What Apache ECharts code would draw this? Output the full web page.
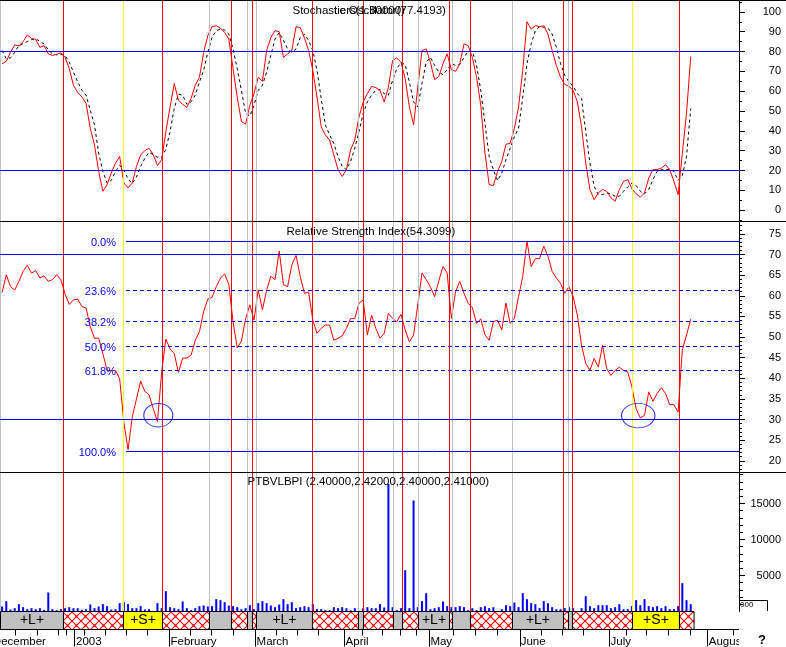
<!DOCTYPE html>
<html><head><meta charset="utf-8">
<style>html,body{margin:0;padding:0;background:#fff}#c{width:786px;height:647px}</style>
<script src="https://cdn.jsdelivr.net/npm/echarts@6/dist/echarts.min.js"></script>
</head><body><div id="c"></div>
<script>
const stochK=[73.8,75.1,79.6,83.3,82.8,85,88.3,86.6,86.1,82.1,83,78.8,78,78.6,79.3,77.1,71.3,62.9,59.4,57.1,53.8,41.2,32.9,19.5,9.5,12.9,18.7,23.7,27,13.7,11.2,13.7,22,27.9,30,31.2,27.9,22.5,25.4,39.6,52,63.8,55.4,53.4,51.8,56.3,63,67,79.6,88,92.5,93,91.8,89.6,86.3,71.3,57,44.6,43.4,52.9,58.8,67,65,80.5,87,90.5,90,77,78.8,80.5,92.5,92,87,80.5,70.5,57,42,37.9,35.4,27.9,20.4,17,20.4,30.4,35.4,47,54.6,58.8,62.4,61.8,60.4,54.6,62,75.5,76.8,74.5,66.3,52,43,62,80.5,81.3,74.6,65.8,67.4,73.8,78.8,70.8,70,73.8,83.8,83,77,67,52.9,28.7,12.9,12.4,19.5,24.5,33.2,33.7,41.2,52,70.5,95,91.3,93,92.5,93,88.8,80.5,73,67,63.4,62.4,60.4,54.6,42,23.7,10.4,5.3,8.7,10.4,9.5,6.2,4.5,10.4,14.5,15.4,10.7,8.3,6.5,8.7,16.2,20.4,20.4,21.2,22.9,20.4,14.5,7.8,28.7,48.7,77.42];
const stochD=[80.5,76.3,76.8,79.6,83,84,85,86,86.5,85,83.8,80.8,78.8,78.3,78.6,78,74.6,69.6,64.6,60.4,58,50.4,43,28.7,19.5,13.7,15,19.5,22.5,20.4,15.7,13.4,16.7,22,26.2,29.2,27.9,26.7,26.7,30.7,39.6,51.2,58.4,58,53.4,54.6,58,64.6,70.5,79.6,87.1,90.5,91.3,90.8,88.8,81.3,71.3,60.4,48.7,47.4,52.9,60.4,63,69.6,78,86.3,89.6,85.5,81.3,79.6,81.3,87,88.8,85.5,80.5,70.5,56.3,42.9,37.9,33.7,27,22,20.4,24.5,31.2,39.6,48.7,54.6,58,60.4,60.8,58.8,58,65.4,71.3,74.5,73.3,64.6,54.6,52,63.8,74.6,77,73,69.6,68.3,71,73.8,73,73.5,77,80.1,80.1,73,60.4,43.7,27,20.4,14.9,18.7,25.4,31.2,37,41.2,57,73.8,83.8,90.5,92.5,92.2,91.8,88.8,82.1,73.8,68,64.6,62.4,58.8,56.3,39.6,23.7,12,7.8,7.8,8.7,8.3,7,7,9.5,11.7,13.7,12.4,9.5,8.2,10.4,15.4,19.5,20.4,20.4,20.7,19.5,15,17.5,27,51.2];
const rsi=[60.8,65.1,62.2,61.4,63.5,65.9,67.4,65.5,66.1,64.3,64.8,63.5,63.9,65.1,63.9,60.4,57.9,59,59.2,57.4,57,52.5,49.7,49.7,46,41.9,41.9,41.9,39.9,29.3,22.7,30.6,35,39.3,36.8,36,32.6,29.5,41.5,49.5,47.1,46,41.4,44.9,44.9,45.6,49.2,51.3,56.2,59.2,59.6,62.2,64.3,65.3,62.7,53.7,47.4,49,54.5,57.8,54.1,61.4,56.6,61.4,64.7,63.9,70.8,62.7,62.2,67.5,69.8,64.7,60.6,60.9,54.1,50.9,52.1,52.9,52.9,49.2,49.7,50.3,52.1,54.5,54.5,58.2,59,50.5,55.3,52.1,49.7,50.9,55.7,54.5,53.7,55.5,51.7,48.8,50.5,57.8,65.5,63.9,62.2,59.8,63.6,67.1,65.5,54.5,61,63.5,60.6,58.2,57.1,53.3,54.4,50.5,49.2,53.7,54.1,51.7,58.2,53.3,54.5,59.8,64.7,73.2,67.1,69,69,72,69.6,65.9,64.3,63,60.6,62.2,59.8,55.3,48,43.6,41.9,44.8,42.7,48,42.3,40.7,41.9,42.7,41.9,41.5,37.9,32.6,30.4,31,36.7,34.4,36.3,37.7,36.3,33.6,33.6,31.8,46.8,50.5,54.31];
const volume=[694,1435,278,463,1019,602,324,463,324,463,231,2639,324,185,324,463,602,463,463,231,324,972,463,694,1019,741,278,324,1157,1296,1019,463,463,741,278,324,null,1157,463,2824,602,463,324,1389,463,185,463,741,833,694,741,1713,1574,1296,833,741,602,324,463,880,324,1157,1435,1157,833,602,972,1713,1019,1296,463,602,741,602,1019,324,324,185,185,602,463,602,463,185,463,null,463,602,463,463,1019,556,17731,602,185,463,5741,463,15417,602,1435,2546,324,463,602,1389,741,602,602,741,602,185,463,185,602,741,463,602,null,324,880,741,1250,602,2546,1713,1157,1019,463,1435,1157,602,324,324,463,602,463,null,463,2130,741,463,880,880,880,463,602,1019,324,324,741,1574,880,1713,741,602,741,463,741,324,324,741,3935,1574,1019];

const stochLabels=[0,10,20,30,40,50,60,70,80,90,100];
const stochMinor=[-5,5,15,25,35,45,55,65,75,85,95,105];
const stochLevels=[20,80];
const rsiLabels=[20,25,30,35,40,45,50,55,60,65,70,75];
const rsiMinor=[18,19,21,22,23,24,26,27,28,29,31,32,33,34,36,37,38,39,41,42,43,44,46,47,48,49,51,52,53,54,56,57,58,59,61,62,63,64,66,67,68,69,71,72,73,74,76,77];
const rsiLevels=[30,70];
const volLabels=[5000,10000,15000];
const volMinor=[1000,2000,3000,4000,6000,7000,8000,9000,11000,12000,13000,14000,16000,17000,18000,19000];
const fibNames=['0.0%','23.6%','38.2%','50.0%','61.8%','100.0%'];
const fibValues=[73.15,61.27,53.76,47.7,41.88,22.24];
const redDays=[14.62,38.2,54.63,59.63,73.92,86.07,95.36,106.55,111.55,133.7,135.84,161.32];
const yellowDays=[28.91,150.13];
const grayDays=[-0.38,49.39,58.44,60.58,84.87,93.21,99.17,107.26,121.55,134.89];
const ellipseDays=[37.2,151.5];
const ellipseRsi=[31.05,30.95];
const bandEdges=[-0.38,14.62,28.91,38.2,49.39,54.63,58.44,59.63,60.58,73.92,84.87,86.07,93.21,95.36,99.17,106.55,107.26,111.55,121.55,133.7,134.89,135.84,150.13,161.32,164.8];
const bandKinds=['L','H','S','H','G','H','G','H','L','H','G','H','G','H','L','H','G','H','L','H','G','H','S','H'];
const monthNames=['December','2003','February','March','April','May','June','July','August'];
const monthDays=[-2.2,17.6,40.1,60.6,81.8,102,123.5,144.9,168.3];
const monthTicks=[17.12,39.82,60.3,81.5,101.74,123.3,144.6,167.9];
const weekTicks=[3.14,8.31,13.38,15.29,19.58,24.58,29.58,34.5,44.82,49.82,55.06,65.23,70.3,75.3,85.71,90.55,94.93,98.74,107.38,112.6,117.9,128.5,133.5,138.4,148.75,153.5,158.66,164,174.1];

const BLUE='#0000ff',RED='#ff0000',FONT='"Liberation Sans",Arial,sans-serif';
const pat=document.createElement('canvas');pat.width=9;pat.height=9;
(function(){const g=pat.getContext('2d');g.fillStyle='#fff';g.fillRect(0,0,9,9);g.strokeStyle=RED;g.lineWidth=1.1;
g.beginPath();g.moveTo(0,0);g.lineTo(9,9);g.moveTo(9,0);g.lineTo(0,9);g.stroke();g.fillStyle=RED;g.fillRect(3.5,3.5,2,2);})();

const zip=a=>a.map((v,i)=>[i,v]);
const vData=()=>[
 ...grayDays.map(x=>({xAxis:x,lineStyle:{color:'#c0c0c0',width:1,type:'solid'}})),
 ...yellowDays.map(x=>({xAxis:x,lineStyle:{color:'#ffff00',width:1,type:'solid'}})),
 ...redDays.map(x=>({xAxis:x,lineStyle:{color:RED,width:1,type:'solid'}}))];
const hData=a=>a.map(y=>({yAxis:y,lineStyle:{color:BLUE,width:1,type:'solid'}}));
const ml=data=>({silent:true,symbol:'none',animation:false,label:{show:false},emphasis:{disabled:true},data});
const fibStart=29.5;
const fibData=fibNames.map((n,i)=>[
 {coord:[fibStart,fibValues[i]],name:n,label:{show:true,position:'start',distance:10,offset:[0,1],formatter:n,color:BLUE,fontFamily:FONT,fontSize:11},
  lineStyle:{color:BLUE,width:1,type:(i===0||i===5)?'solid':[4,3]}},
 {coord:[175.5,fibValues[i]]}]);

const xa=(g,extra)=>Object.assign({type:'value',gridIndex:g,min:-0.5,max:175.5,show:false},extra||{});
const tickX=(g,len,vals)=>xa(g,{show:true,position:'bottom',axisLine:{show:false,onZero:false},splitLine:{show:false},axisLabel:{show:false},
  axisTick:{show:true,length:len,customValues:vals,lineStyle:{color:'#000'}}});
const yMajor=(g,min,max,labels)=>({type:'value',gridIndex:g,min,max,position:'right',splitLine:{show:false},
  axisLine:{show:true,onZero:false,lineStyle:{color:'#000',width:1}},
  axisTick:{show:true,length:6,customValues:labels,lineStyle:{color:'#000'}},
  axisLabel:{show:true,customValues:labels,formatter:v=>String(v),align:'right',margin:42,padding:[2,0,0,0],color:'#000',fontFamily:FONT,fontSize:11}});
const yMinor=(g,min,max,minor,len)=>({type:'value',gridIndex:g,min,max,position:'right',splitLine:{show:false},
  axisLine:{show:false,onZero:false},axisLabel:{show:false},
  axisTick:{show:true,length:len,customValues:minor,lineStyle:{color:'#000'}}});
const R=[[-5.48,105.97],[17.28,77.88],[0,19236]];
const rects=[{left:0,width:739,top:0,height:221},{left:0,width:739,top:222,height:250},{left:0,width:739,top:473,height:138.5},{left:0,width:739,top:611.5,height:18}];

function bandItem(params,api){
 const i=params.dataIndex,x0=api.coord([bandEdges[i],1]),x1=api.coord([bandEdges[i+1],0]);
 const k=bandKinds[i];
 const fill=k==='H'?{image:pat,repeat:'repeat'}:(k==='S'?'#ffff00':'#c0c0c0');
 const kids=[{type:'rect',shape:{x:x0[0],y:x0[1],width:x1[0]-x0[0],height:x1[1]-x0[1]},
   style:{fill,stroke:'#000',lineWidth:1}}];
 if(k==='L'||k==='S')kids.push({type:'text',x:(x0[0]+x1[0])/2,y:(x0[1]+x1[1])/2,
   style:{text:'+'+k+'+',fill:'#000',font:'14px '+FONT,align:'center',verticalAlign:'middle'}});
 return {type:'group',children:kids};
}
function monthItem(params,api){
 const p=api.coord([api.value(0),0]);
 return {type:'text',x:p[0],y:641.5,clipPath:{type:'rect',shape:{x:-p[0],y:-20,width:739,height:40}},
  style:{text:monthNames[params.dataIndex],fill:'#000',font:'11.5px '+FONT,align:'left',verticalAlign:'middle'}};
}
const titleEl=(t,x,y)=>({type:'text',x,y,z:50,style:{text:t,fill:'#000',font:'11.5px '+FONT,align:'left',verticalAlign:'middle'}});
const lineEl=(x1,y1,x2,y2)=>({type:'line',z:40,silent:true,shape:{x1,y1,x2,y2},style:{stroke:'#000',lineWidth:1}});

const option={
 animation:false,backgroundColor:'#fff',
 grid:[...rects,...rects],
 xAxis:[xa(0),xa(1),xa(2),tickX(3,6,weekTicks),xa(4),xa(5),xa(6),tickX(7,17,monthTicks)],
 yAxis:[yMajor(0,R[0][0],R[0][1],stochLabels),yMajor(1,R[1][0],R[1][1],rsiLabels),yMajor(2,R[2][0],R[2][1],volLabels),
  {type:'value',gridIndex:3,min:0,max:1,show:false},
  yMinor(4,R[0][0],R[0][1],stochMinor,3),yMinor(5,R[1][0],R[1][1],rsiMinor,3),yMinor(6,R[2][0],R[2][1],volMinor,4),
  {type:'value',gridIndex:7,min:0,max:1,show:false}],
 series:[
  {type:'line',xAxisIndex:0,yAxisIndex:0,data:zip(stochD),showSymbol:false,silent:true,z:3,lineStyle:{color:'#000',width:1,type:[3,3]},
   markLine:ml(vData())},
  {type:'line',xAxisIndex:0,yAxisIndex:0,data:zip(stochK),showSymbol:false,silent:true,z:4,lineStyle:{color:RED,width:1},
   markLine:ml(hData(stochLevels))},
  {type:'line',xAxisIndex:1,yAxisIndex:1,data:zip(rsi),showSymbol:false,silent:true,z:4,lineStyle:{color:RED,width:1},
   markLine:ml([...vData(),...hData(rsiLevels),...fibData])},
  {type:'scatter',xAxisIndex:1,yAxisIndex:1,data:ellipseDays.map((d,i)=>[d,ellipseRsi[i]]),silent:true,z:5,symbol:'circle',
   symbolSize:(v,p)=>p.dataIndex===0?[29,23.5]:[33.5,24.5],itemStyle:{color:'transparent',borderColor:BLUE,borderWidth:1}},
  {type:'bar',xAxisIndex:2,yAxisIndex:2,data:zip(volume),barWidth:2,silent:true,z:4,itemStyle:{color:BLUE},
   markLine:ml(vData())},
  {type:'custom',xAxisIndex:3,yAxisIndex:3,data:bandKinds.map((k,i)=>[bandEdges[i],bandEdges[i+1]]),renderItem:bandItem,silent:true,clip:false,z:6},
  {type:'custom',xAxisIndex:3,yAxisIndex:3,data:monthDays.map(d=>[d]),renderItem:monthItem,silent:true,clip:false,z:6}
 ],
 graphic:{elements:[
  lineEl(0,0.5,786,0.5),lineEl(0,221.5,786,221.5),lineEl(0,472.5,786,472.5),lineEl(0,629.5,739,629.5),
  titleEl('Stochastic Oscillator(77.4193)',292.5,11),
  titleEl('tiers(1.80000)',334,11),
  titleEl('Relative Strength Index(54.3099)',286.5,232),
  titleEl('PTBVLBPI (2.40000,2.42000,2.40000,2.41000)',247.5,482),
  {type:'polyline',z:40,silent:true,shape:{points:[[739,600.5],[767.5,600.5],[767.5,611]]},style:{stroke:'#000',fill:null,lineWidth:1}},
  {type:'text',x:740,y:605,z:41,style:{text:'000',fill:'#000',font:'8px '+FONT,verticalAlign:'middle'}},
  {type:'text',x:758,y:640,z:41,style:{text:'?',fill:'#000',font:'bold 13px '+FONT,verticalAlign:'middle'}}
 ]}
};
echarts.init(document.getElementById('c'),null,{renderer:'canvas',width:786,height:647}).setOption(option);
</script></body></html>
